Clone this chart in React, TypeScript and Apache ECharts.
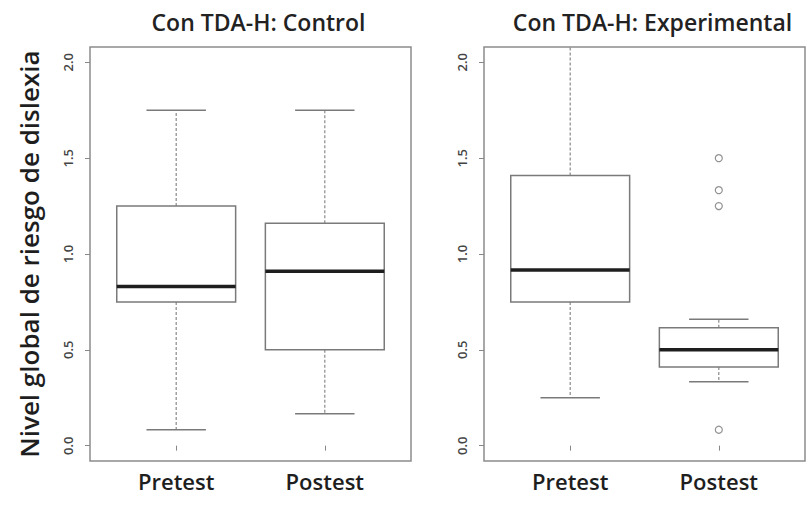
import React, { useEffect, useRef } from "react";
import * as echarts from "echarts";

const CATEGORIES = ["Pretest", "Postest"];
const PANEL_TITLES = ["Con TDA-H: Control", "Con TDA-H: Experimental"];
const Y_NAME = "Nivel global de riesgo de dislexia";
const Y_TICKS = [0, 0.5, 1, 1.5, 2];
const X_POSITIONS = [1, 2];
// [position, min, q1, median, q3, max]
const CONTROL_BOXES = [
  [1, 0.083, 0.75, 0.83, 1.25, 1.75],
  [2, 0.167, 0.5, 0.91, 1.16, 1.75],
];
const EXPERIMENTAL_BOXES = [
  [1, 0.25, 0.75, 0.917, 1.41, 2.5],
  [2, 0.333, 0.41, 0.5, 0.615, 0.66],
];
const CONTROL_OUTLIERS: number[][] = [];
const EXPERIMENTAL_OUTLIERS = [
  [2, 1.5],
  [2, 1.333],
  [2, 1.25],
  [2, 0.083],
];

const FONT = "'Open Sans', Lato, sans-serif";
const Y_MIN = -0.08;
const Y_MAX = 2.08;

const renderBox = (params: any, api: any) => {
  const x = api.value(0);
  const vals = [1, 2, 3, 4, 5].map((i) => api.value(i));
  const cs = params.coordSys;
  const top = cs.y;
  const bottom = cs.y + cs.height;
  const clampY = (y: number) => Math.max(top, Math.min(bottom, y));
  const cx = api.coord([x, 0])[0];
  const w = api.size([0.8, 0])[0];
  const capW = w / 2;
  const ys = vals.map((v: number) => clampY(api.coord([x, v])[1]));
  const [yMin, yQ1, yMed, yQ3, yMax] = ys;
  const boxColor = "#7a7a7a";
  const children: any[] = [
    {
      type: "line",
      shape: { x1: cx, y1: yQ3, x2: cx, y2: yMax },
      style: { stroke: "#8a8a8a", lineWidth: 1.2, lineDash: [3, 2] },
    },
    {
      type: "line",
      shape: { x1: cx, y1: yQ1, x2: cx, y2: yMin },
      style: { stroke: "#8a8a8a", lineWidth: 1.2, lineDash: [3, 2] },
    },
    {
      type: "rect",
      shape: { x: cx - w / 2, y: yQ3, width: w, height: yQ1 - yQ3 },
      style: { fill: "#ffffff", stroke: boxColor, lineWidth: 1.5 },
    },
    {
      type: "line",
      shape: { x1: cx - w / 2, y1: yMed, x2: cx + w / 2, y2: yMed },
      style: { stroke: "#1e1e1e", lineWidth: 3.5 },
    },
  ];
  if (vals[4] <= Y_MAX) {
    children.push({
      type: "line",
      shape: { x1: cx - capW / 2, y1: yMax, x2: cx + capW / 2, y2: yMax },
      style: { stroke: boxColor, lineWidth: 1.5 },
    });
  }
  if (vals[0] >= Y_MIN) {
    children.push({
      type: "line",
      shape: { x1: cx - capW / 2, y1: yMin, x2: cx + capW / 2, y2: yMin },
      style: { stroke: boxColor, lineWidth: 1.5 },
    });
  }
  return { type: "group", children };
};

export default function App() {
  const ref = useRef<HTMLDivElement>(null);
  useEffect(() => {
    if (!ref.current) return;
    const chart = echarts.init(ref.current, null, { renderer: "svg" });
    const grids = [
      { left: 90, top: 47, width: 321, height: 414 },
      { left: 484, top: 47, width: 321, height: 414 },
    ];
    const makeX = (i: number) => ({
      type: "value",
      gridIndex: i,
      min: 0.42,
      max: 2.58,
      splitLine: { show: false },
      axisLine: { show: false },
      axisTick: {
        show: true,
        customValues: X_POSITIONS,
        length: 5,
        lineStyle: { color: "#888" },
      },
      axisLabel: {
        customValues: X_POSITIONS,
        formatter: (v: number) => CATEGORIES[Math.round(v) - 1] ?? "",
        fontFamily: FONT,
        fontWeight: 600,
        fontSize: 22,
        color: "#1e1e1e",
        margin: 9,
      },
    });
    const makeY = (i: number) => ({
      type: "value",
      gridIndex: i,
      min: Y_MIN,
      max: Y_MAX,
      splitLine: { show: false },
      axisLine: { show: false },
      axisTick: {
        show: true,
        customValues: Y_TICKS,
        length: 5,
        lineStyle: { color: "#888" },
      },
      axisLabel: {
        customValues: Y_TICKS,
        rotate: 90,
        formatter: (v: number) => v.toFixed(1),
        fontFamily: FONT,
        fontWeight: 600,
        fontSize: 13,
        color: "#444",
        margin: 16,
      },
      ...(i === 0
        ? {
            name: Y_NAME,
            nameLocation: "middle",
            nameGap: 48,
            nameRotate: 90,
            nameTextStyle: {
              fontFamily: FONT,
              fontWeight: 600,
              fontSize: 26,
              color: "#1e1e1e",
            },
          }
        : {}),
    });
    chart.setOption({
      animation: false,
      backgroundColor: "#ffffff",
      title: PANEL_TITLES.map((t, i) => ({
        text: t,
        left: grids[i].left + grids[i].width / 2 + 3,
        top: 5,
        textAlign: "center",
        textStyle: {
          fontFamily: FONT,
          fontWeight: 600,
          fontSize: 23,
          color: "#222",
        },
      })),
      grid: grids.map((g) => ({
        ...g,
        show: true,
        borderColor: "#8c8c8c",
        borderWidth: 1.5,
        backgroundColor: "transparent",
      })),
      xAxis: [makeX(0), makeX(1)],
      yAxis: [makeY(0), makeY(1)],
      series: [
        {
          type: "custom",
          xAxisIndex: 0,
          yAxisIndex: 0,
          renderItem: renderBox,
          encode: { x: 0, y: [1, 2, 3, 4, 5] },
          data: CONTROL_BOXES,
        },
        {
          type: "custom",
          xAxisIndex: 1,
          yAxisIndex: 1,
          renderItem: renderBox,
          encode: { x: 0, y: [1, 2, 3, 4, 5] },
          data: EXPERIMENTAL_BOXES,
        },
        {
          type: "scatter",
          xAxisIndex: 0,
          yAxisIndex: 0,
          data: CONTROL_OUTLIERS,
          symbol: "circle",
          symbolSize: 7,
          itemStyle: { color: "#ffffff", borderColor: "#777", borderWidth: 1.2 },
        },
        {
          type: "scatter",
          xAxisIndex: 1,
          yAxisIndex: 1,
          data: EXPERIMENTAL_OUTLIERS,
          symbol: "circle",
          symbolSize: 7,
          itemStyle: { color: "#ffffff", borderColor: "#777", borderWidth: 1.2 },
        },
      ],
    });
    return () => chart.dispose();
  }, []);
  return <div ref={ref} style={{ width: 806, height: 506, position: "absolute", left: 0, top: 0 }} />;
}
